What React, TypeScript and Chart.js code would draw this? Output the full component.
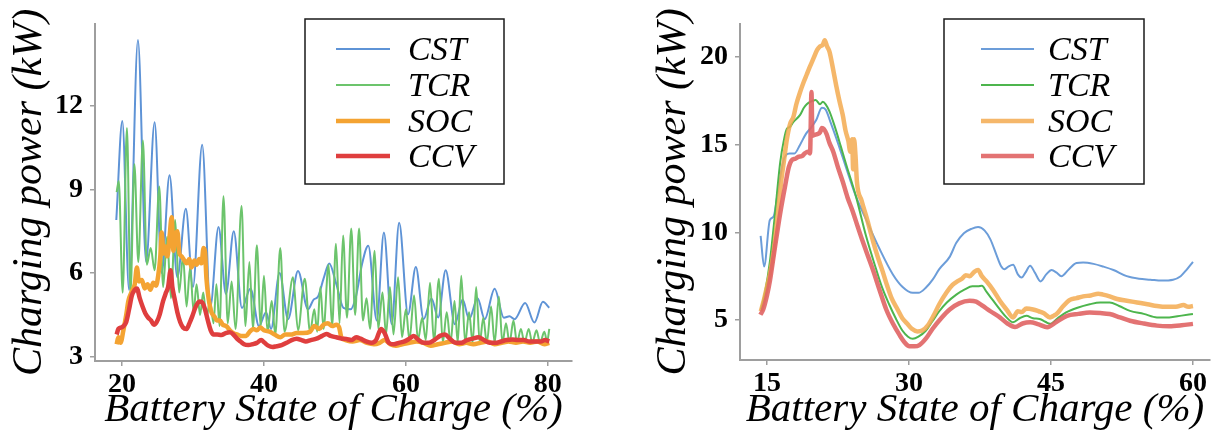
import React, { useEffect, useRef } from "react";
import { Chart, registerables } from "chart.js";
Chart.register(...registerables);

// ---------- Shared ----------
const seriesNames = ["CST", "TCR", "SOC", "CCV"];

// ---------- Left chart data ----------
const leftXTicks = [20, 40, 60, 80];
const leftYTicks = [3, 6, 9, 12];

const leftCstSoc = [19.2, 20.05, 21.0, 22.25, 23.4, 24.6, 25.6, 26.7, 27.8, 29.0, 30.0, 31.3, 32.45, 33.6, 34.65, 35.75, 36.9, 38.1, 39.3, 40.3, 41.0, 42.2, 43.4, 44.8, 46.2, 47.0, 47.6, 48.4, 49.2, 50.2, 51.2, 52.2, 53.0, 53.8, 54.7, 55.9, 56.9, 58.0, 59.05, 60.3, 61.4, 62.5, 63.6, 64.55, 65.6, 66.9, 68.0, 68.9, 70.1, 71.1, 72.5, 73.8, 74.6, 75.3, 76.8, 78.1, 79.3, 80.2];
const leftCstPower = [7.9, 11.45, 5.4, 14.35, 6.4, 11.4, 6.0, 9.5, 5.85, 8.3, 5.5, 10.6, 4.8, 7.65, 5.25, 7.5, 4.75, 5.45, 4.1, 4.6, 4.0, 6.0, 4.35, 6.07, 4.7, 5.05, 5.15, 5.8, 6.34, 5.6, 4.75, 4.7, 5.2, 6.3, 6.98, 4.3, 7.45, 4.17, 7.8, 4.52, 6.22, 4.35, 5.09, 4.41, 6.1, 4.17, 5.05, 4.35, 5.1, 4.35, 5.44, 4.4, 4.45, 4.35, 4.93, 4.23, 4.97, 4.76];

const leftTcrSoc = [19.25, 19.55, 20.1, 20.7, 21.2, 21.75, 22.3, 22.95, 23.5, 24.05, 24.6, 25.25, 25.8, 26.35, 26.9, 27.5, 28.05, 28.6, 29.1, 29.6, 30.1, 30.5, 31.0, 31.45, 31.9, 32.4, 32.9, 33.3, 33.75, 34.3, 34.9, 35.45, 36.0, 36.85, 37.4, 37.95, 38.45, 39.0, 39.55, 40.0, 40.5, 41.1, 41.6, 42.3, 42.9, 44.1, 44.8, 45.75, 46.5, 47.1, 47.5, 47.95, 48.4, 49.1, 49.6, 50.15, 50.65, 51.15, 51.7, 52.3, 52.85, 53.4, 53.95, 54.45, 54.95, 55.6, 56.1, 56.7, 57.2, 57.75, 58.25, 58.9, 59.45, 60.0, 60.5, 61.15, 61.7, 62.3, 62.8, 63.4, 63.95, 64.65, 65.2, 65.75, 66.3, 66.85, 67.3, 67.8, 68.35, 68.9, 69.4, 69.9, 70.4, 70.9, 71.4, 72.0, 72.5, 73.1, 73.6, 74.1, 74.6, 75.15, 75.65, 76.2, 76.7, 77.3, 77.8, 78.4, 78.9, 79.5, 79.9, 80.2];
const leftTcrPower = [8.9, 9.3, 5.3, 11.2, 5.3, 9.9, 6.4, 10.75, 6.3, 6.9, 6.1, 9.1, 5.5, 7.3, 5.1, 7.9, 5.3, 6.6, 4.8, 6.2, 4.6, 5.6, 4.5, 5.3, 4.4, 5.0, 4.2, 5.6, 4.1, 8.75, 4.2, 5.7, 4.0, 8.4, 4.1, 6.4, 4.0, 7.0, 4.1, 5.9, 3.9, 5.0, 3.8, 6.9, 3.9, 5.85, 3.95, 5.8, 3.9, 4.7, 3.9, 5.5, 4.0, 6.3, 4.1, 7.05, 4.2, 7.35, 4.4, 7.6, 4.5, 7.6, 4.3, 5.1, 4.0, 6.8, 4.0, 5.3, 3.8, 5.5, 3.8, 5.85, 3.7, 4.7, 3.6, 5.2, 3.6, 4.4, 3.6, 5.65, 3.55, 5.8, 3.5, 4.6, 3.5, 5.0, 3.5, 5.9, 3.5, 4.6, 3.5, 5.5, 3.5, 4.4, 3.5, 4.8, 3.5, 5.15, 3.5, 4.2, 3.5, 4.3, 3.5, 4.0, 3.5, 4.0, 3.5, 3.95, 3.5, 3.9, 3.55, 4.0];

const leftSocSoc = [19.25, 19.5, 19.8, 20.2, 20.6, 20.9, 21.4, 21.8, 22.1, 22.4, 22.8, 23.2, 23.6, 24.0, 24.4, 24.8, 25.1, 25.4, 25.6, 25.85, 26.1, 26.4, 26.7, 27.0, 27.25, 27.5, 27.8, 28.1, 28.4, 28.8, 29.1, 29.5, 29.8, 30.2, 30.5, 30.9, 31.2, 31.5, 31.7, 31.9, 32.2, 32.6, 33.0, 33.4, 33.8, 34.2, 34.7, 35.2, 35.7, 36.2, 36.8, 37.5, 38.0, 38.5, 39.0, 39.5, 40.0, 40.8, 41.5, 42.3, 43.0, 43.8, 44.6, 45.5, 46.5, 47.1, 47.8, 48.4, 49.0, 49.6, 50.2, 50.6, 50.9, 51.5, 52.5, 53.5, 54.5, 55.5, 56.3, 57.0, 57.8, 58.6, 59.5, 60.5, 61.5, 62.5, 63.5, 64.5, 65.5, 66.5, 67.5, 68.5, 69.5, 70.5, 71.5, 72.5, 73.5, 74.5, 75.5, 76.5, 77.5, 78.5, 79.5, 80.2];
const leftSocPower = [3.45, 3.7, 3.5, 3.95, 4.5, 5.0, 5.35, 5.6, 6.2, 5.7, 5.75, 5.45, 5.6, 5.4, 5.65, 5.55, 5.9, 6.6, 7.45, 6.7, 6.95, 6.6, 7.3, 8.0, 6.8, 7.3, 7.5, 6.7, 6.6, 6.45, 6.35, 6.5, 6.2, 6.45, 6.3, 6.5, 6.35, 6.9, 6.75, 5.8, 5.1, 4.6, 4.45, 4.3, 4.3, 4.15, 4.1, 3.95, 3.85, 3.8, 3.75, 3.75, 3.9, 4.0, 3.95, 4.05, 3.95, 3.9, 3.8, 3.7, 3.8, 3.8, 3.85, 3.85, 3.9, 4.1, 4.0, 4.15, 4.2, 4.1, 4.15, 4.05, 3.7, 3.6, 3.55, 3.6, 3.5, 3.45, 3.5, 3.6, 3.45, 3.4, 3.45, 3.5, 3.55, 3.5, 3.4, 3.45, 3.5, 3.55, 3.45, 3.5, 3.45, 3.5, 3.55, 3.45, 3.5, 3.55, 3.5, 3.55, 3.5, 3.55, 3.45, 3.5];

const leftCcvSoc = [19.25, 19.5, 19.9, 20.2, 20.6, 21.0, 21.4, 21.8, 22.1, 22.5, 22.9, 23.3, 23.7, 24.1, 24.5, 24.9, 25.3, 25.8, 26.2, 26.5, 26.85, 27.1, 27.4, 27.8, 28.2, 28.6, 29.1, 29.5, 29.9, 30.4, 30.9, 31.3, 31.7, 32.1, 32.5, 32.9, 33.4, 34.0, 34.6, 35.2, 35.7, 36.2, 36.7, 37.2, 37.8, 38.4, 39.0, 39.6, 40.1, 40.6, 41.2, 41.8, 42.5, 43.2, 43.9, 44.6, 45.3, 45.9, 46.6, 47.4, 48.2, 48.8, 49.4, 50.2, 51.0, 51.6, 52.3, 53.0, 53.6, 54.4, 55.2, 55.8, 56.5, 57.0, 57.6, 58.3, 59.0, 59.8, 60.5, 61.1, 61.8, 62.5, 63.2, 64.0, 64.8, 65.5, 66.2, 67.0, 67.8, 68.6, 69.4, 70.2, 71.0, 71.8, 72.6, 73.4, 74.2, 75.0, 75.8, 76.6, 77.4, 78.2, 79.0, 79.6, 80.2];
const leftCcvPower = [3.8, 4.0, 4.05, 4.1, 4.25, 4.7, 5.2, 5.4, 5.45, 5.1, 4.8, 4.55, 4.4, 4.3, 4.15, 4.25, 4.5, 5.0, 5.3, 5.5, 6.1, 5.5, 5.1, 4.6, 4.25, 4.05, 4.0, 4.2, 4.45, 4.8, 4.98, 4.95, 4.7, 4.3, 3.95, 3.8, 3.8, 3.78, 3.85, 3.88, 3.8, 3.65, 3.55, 3.45, 3.42, 3.45, 3.5, 3.6, 3.5, 3.4, 3.35, 3.38, 3.42, 3.5, 3.6, 3.65, 3.6, 3.55, 3.6, 3.65, 3.75, 3.82, 3.75, 3.7, 3.65, 3.64, 3.6, 3.7, 3.65, 3.55, 3.5, 3.6, 4.0, 3.85, 3.5, 3.45, 3.5, 3.55, 3.65, 3.75, 3.6, 3.5, 3.5, 3.6, 3.75, 3.8, 3.65, 3.5, 3.5, 3.6, 3.65, 3.7, 3.6, 3.5, 3.5, 3.55, 3.6, 3.62, 3.6, 3.6, 3.55, 3.55, 3.55, 3.6, 3.55];

// ---------- Right chart data ----------
const rightXTicks = [15, 30, 45, 60];
const rightYTicks = [5, 10, 15, 20];

const rightCstSoc = [14.33, 14.7, 15.3, 15.7, 16.2, 16.7, 17.0, 17.4, 17.9, 18.5, 19.1, 19.7, 20.2, 20.8, 21.2, 21.7, 22.3, 22.8, 23.35, 24.4, 25.5, 26.9, 28.3, 29.3, 30.4, 31.0, 31.8, 32.5, 33.2, 34.3, 35.0, 35.8, 36.6, 37.3, 38.0, 38.6, 39.25, 39.7, 40.1, 40.5, 41.0, 41.5, 41.9, 42.3, 42.8, 43.3, 43.9, 44.5, 45.07, 45.6, 46.1, 46.9, 47.7, 48.4, 49.5, 50.5, 51.6, 53.0, 54.3, 55.5, 56.7, 57.9, 58.7, 59.3, 60.0];
const rightCstPower = [9.8, 8.05, 10.7, 10.9, 12.5, 14.0, 14.4, 14.5, 14.5, 15.0, 15.6, 16.0, 16.4, 17.1, 17.0, 16.3, 15.4, 14.6, 13.7, 12.05, 10.7, 9.05, 7.6, 6.9, 6.55, 6.55, 6.85, 7.3, 7.9, 8.6, 9.4, 9.95, 10.2, 10.3, 10.1, 9.6, 8.7, 8.1, 7.9, 8.05, 8.15, 7.6, 7.42, 7.7, 8.1, 7.7, 7.2, 7.6, 7.85, 7.7, 7.5, 7.9, 8.25, 8.28, 8.2, 8.05, 7.85, 7.5, 7.35, 7.3, 7.25, 7.3, 7.5, 7.85, 8.32];

const rightTcrSoc = [14.35, 14.8, 15.3, 15.8, 16.4, 16.8, 17.1, 17.4, 17.8, 18.5, 18.9, 19.2, 19.6, 20.15, 20.6, 20.9, 21.2, 21.6, 22.0, 22.3, 22.8, 23.35, 24.4, 25.46, 26.5, 27.2, 27.9, 28.6, 29.3, 29.9, 30.4, 31.0, 31.8, 32.5, 33.2, 34.0, 35.0, 35.9, 36.7, 37.3, 37.7, 38.2, 38.9, 39.6, 40.3, 41.0, 41.7, 42.4, 43.1, 43.8, 44.4, 44.9, 45.7, 46.6, 47.8, 49.1, 50.2, 51.2, 52.2, 53.35, 54.8, 56.2, 57.5, 58.8, 60.0];
const rightTcrPower = [5.6, 6.6, 8.3, 10.8, 14.0, 15.3, 15.9, 16.0, 16.3, 16.7, 17.1, 17.3, 17.45, 17.55, 17.3, 17.45, 17.3, 16.9, 16.3, 15.8, 14.9, 13.9, 12.05, 9.8, 7.95, 6.8, 5.9, 5.1, 4.4, 4.05, 3.93, 4.05, 4.4, 4.95, 5.5, 6.0, 6.45, 6.75, 6.92, 6.92, 6.95, 6.6, 6.1, 5.6, 5.15, 4.87, 5.1, 5.24, 5.1, 5.06, 4.9, 4.78, 5.1, 5.43, 5.7, 5.9, 6.0, 6.0, 5.8, 5.52, 5.35, 5.15, 5.15, 5.25, 5.34];

const rightSocSoc = [14.35, 14.7, 15.0, 15.3, 15.7, 16.1, 16.5, 16.8, 17.1, 17.45, 17.8, 18.1, 18.5, 18.9, 19.2, 19.5, 19.9, 20.3, 20.6, 20.9, 21.1, 21.35, 21.6, 21.95, 22.3, 22.65, 23.0, 23.3, 23.6, 23.8, 24.0, 24.1, 24.2, 24.35, 24.5, 25.0, 25.6, 26.2, 26.7, 27.2, 27.7, 28.2, 28.8, 29.3, 29.8, 30.3, 30.9, 31.4, 32.0, 32.6, 33.2, 34.0, 34.6, 35.1, 35.6, 36.0, 36.4, 36.9, 37.3, 37.7, 38.2, 38.9, 39.6, 40.3, 41.0, 41.5, 41.9, 42.4, 43.1, 43.7, 44.2, 44.9, 45.3, 45.6, 46.3, 47.0, 47.7, 48.4, 49.2, 50.0, 50.5, 51.2, 52.0, 53.0, 54.1, 55.2, 56.2, 57.2, 58.2, 59.0, 59.5, 60.0];
const rightSocPower = [5.5, 6.2, 6.9, 7.6, 8.9, 10.8, 12.9, 14.1, 15.3, 16.2, 16.6, 17.3, 18.0, 18.6, 19.0, 19.4, 19.9, 20.4, 20.6, 20.7, 20.95, 20.6, 20.3, 19.4, 18.4, 17.5, 16.7, 15.8, 15.2, 14.6, 15.3, 13.6, 15.3, 14.4, 12.9, 11.8, 10.7, 9.5, 8.6, 7.8, 6.95, 6.2, 5.6, 5.1, 4.8, 4.5, 4.35, 4.4, 4.7, 5.25, 5.9, 6.6, 7.0, 7.2, 7.35, 7.55, 7.5, 7.75, 7.85, 7.5, 7.2, 6.7, 6.1, 5.6, 5.15, 5.5, 5.45, 5.65, 5.6, 5.5, 5.4, 5.15, 5.25, 5.35, 5.8, 6.15, 6.25, 6.35, 6.4, 6.5, 6.45, 6.35, 6.2, 6.1, 6.0, 5.9, 5.8, 5.75, 5.75, 5.85, 5.75, 5.8];

const rightCcvSoc = [14.3, 14.6, 15.0, 15.3, 15.8, 16.4, 16.9, 17.3, 17.6, 18.0, 18.3, 18.7, 19.0, 19.3, 19.55, 19.7, 19.8, 20.0, 20.3, 20.6, 20.8, 21.0, 21.3, 21.6, 22.0, 22.5, 23.0, 23.5, 24.05, 24.6, 25.1, 25.7, 26.2, 26.9, 27.6, 28.3, 29.0, 29.5, 30.05, 30.6, 31.1, 31.8, 32.5, 33.4, 34.3, 35.3, 36.4, 37.1, 37.8, 38.6, 39.6, 40.4, 41.2, 42.0, 42.8, 43.7, 44.6, 45.6, 46.7, 47.9, 49.1, 50.2, 51.2, 52.3, 53.35, 54.8, 56.2, 57.5, 58.8, 60.0];
const rightCcvPower = [5.3, 5.6, 6.4, 7.2, 9.0, 11.1, 12.6, 13.7, 14.1, 14.2, 14.3, 14.35, 14.5, 14.6, 14.5, 18.0, 15.5, 15.55, 15.6, 15.7, 15.95, 15.9, 15.6, 15.1, 14.6, 13.7, 12.9, 12.0, 11.2, 10.3, 9.5, 8.6, 7.85, 6.7, 5.6, 4.8, 4.15, 3.75, 3.5, 3.5, 3.57, 3.95, 4.5, 5.1, 5.6, 5.95, 6.1, 6.05, 5.8, 5.5, 5.15, 4.8, 4.6, 4.8, 4.87, 4.75, 4.59, 4.9, 5.24, 5.35, 5.43, 5.4, 5.34, 5.15, 4.96, 4.8, 4.68, 4.65, 4.7, 4.78];

// ---------- helpers ----------
const FONT = "'Liberation Serif', 'Times New Roman', 'DejaVu Serif', serif";

function pts(xs: number[], ys: number[]) {
  return xs.map((x, i) => ({ x, y: ys[i] }));
}

type LegendBox = { x: number; y: number; w: number; h: number; lx1: number; lx2: number; tx: number; rows: number[] };

function boxLegend(box: LegendBox) {
  return {
    id: "boxLegend",
    afterDraw(chart: any) {
      const ctx = chart.ctx as CanvasRenderingContext2D;
      ctx.save();
      ctx.strokeStyle = "#1a1a1a";
      ctx.lineWidth = 1.5;
      ctx.strokeRect(box.x, box.y, box.w, box.h);
      chart.data.datasets.forEach((ds: any, i: number) => {
        const y = box.rows[i];
        ctx.strokeStyle = ds.borderColor;
        ctx.lineWidth = ds.borderWidth;
        ctx.lineCap = "butt";
        ctx.beginPath();
        ctx.moveTo(box.lx1, y);
        ctx.lineTo(box.lx2, y);
        ctx.stroke();
        ctx.fillStyle = "#000";
        ctx.font = `italic 34px ${FONT}`;
        ctx.textBaseline = "alphabetic";
        ctx.textAlign = "left";
        ctx.fillText(ds.label, box.tx, y + 11);
      });
      ctx.restore();
    },
  };
}

type PanelSpec = {
  width: number;
  height: number;
  datasets: any[];
  xMin: number; xMax: number; yMin: number; yMax: number;
  xTicks: number[]; yTicks: number[];
  yAxisWidth: number; xAxisHeight: number;
  padTop: number; padRight: number;
  yTitlePad: number;
  legend: LegendBox;
};

function makeConfig(p: PanelSpec): any {
  const axisColor = "#9e9e9e";
  const tickFont = { family: FONT, size: 28, weight: "bold" as const };
  return {
    type: "line",
    data: { datasets: p.datasets },
    options: {
      animation: false,
      responsive: false,
      devicePixelRatio: 1,
      events: [],
      layout: { padding: { top: p.padTop, right: p.padRight, left: 0, bottom: 0 } },
      plugins: { legend: { display: false }, tooltip: { enabled: false } },
      elements: { point: { radius: 0 }, line: { tension: 0.35, cubicInterpolationMode: "monotone" } },
      scales: {
        x: {
          type: "linear",
          min: p.xMin,
          max: p.xMax,
          afterBuildTicks: (s: any) => { s.ticks = p.xTicks.map((v) => ({ value: v })); },
          afterFit: (s: any) => { s.height = p.xAxisHeight; },
          ticks: { font: tickFont, color: "#000", padding: 2, maxRotation: 0, autoSkip: false },
          grid: { drawOnChartArea: false, drawTicks: true, tickLength: 5, color: axisColor, lineWidth: 1.5 },
          border: { display: true, color: axisColor, width: 2 },
          title: { display: true, text: "Battery State of Charge (%)", color: "#000", font: { family: FONT, size: 41, style: "italic", lineHeight: 1 }, padding: { top: 0, bottom: 5 } },
        },
        y: {
          type: "linear",
          min: p.yMin,
          max: p.yMax,
          afterBuildTicks: (s: any) => { s.ticks = p.yTicks.map((v) => ({ value: v })); },
          afterFit: (s: any) => { s.width = p.yAxisWidth; },
          ticks: { font: tickFont, color: "#000", padding: 7 },
          grid: { drawOnChartArea: false, drawTicks: true, tickLength: 5, color: axisColor, lineWidth: 1.5 },
          border: { display: true, color: axisColor, width: 2 },
          title: { display: true, text: "Charging power (kW)", color: "#000", font: { family: FONT, size: 42, style: "italic", lineHeight: 1 }, padding: { top: p.yTitlePad, bottom: 0 } },
        },
      },
    },
    plugins: [boxLegend(p.legend)],
  };
}

function Panel({ spec, left }: { spec: PanelSpec; left: number }) {
  const ref = useRef<HTMLCanvasElement | null>(null);
  useEffect(() => {
    if (!ref.current) return;
    const chart = new Chart(ref.current, makeConfig(spec));
    return () => chart.destroy();
  }, []);
  return (
    <canvas
      ref={ref}
      width={spec.width}
      height={spec.height}
      style={{ position: "absolute", left, top: 0, width: spec.width, height: spec.height }}
    />
  );
}

function ds(label: string, xs: number[], ys: number[], color: string, width: number, order: number) {
  return { label, data: pts(xs, ys), borderColor: color, backgroundColor: color, borderWidth: width, fill: false, order };
}

const leftSpec: PanelSpec = {
  width: 600,
  height: 436,
  datasets: [
    ds(seriesNames[0], leftCstSoc, leftCstPower, "#5e93d6", 2, 3),
    ds(seriesNames[1], leftTcrSoc, leftTcrPower, "#6cc46c", 2, 2),
    ds(seriesNames[2], leftSocSoc, leftSocPower, "#f4a332", 4.5, 1),
    ds(seriesNames[3], leftCcvSoc, leftCcvPower, "#df3e3e", 4.5, 0),
  ],
  xMin: 16.2, xMax: 83.4, yMin: 2.85, yMax: 14.93,
  xTicks: leftXTicks, yTicks: leftYTicks,
  yAxisWidth: 95, xAxisHeight: 75, padTop: 17, padRight: 28,
  yTitlePad: 9,
  legend: { x: 305, y: 19, w: 199, h: 165, lx1: 336, lx2: 390, tx: 408, rows: [49, 85, 121, 156] },
};

const rightSpec: PanelSpec = {
  width: 613,
  height: 436,
  datasets: [
    ds(seriesNames[0], rightCstSoc, rightCstPower, "#6c9dd9", 2, 3),
    ds(seriesNames[1], rightTcrSoc, rightTcrPower, "#4db54d", 2, 2),
    ds(seriesNames[2], rightSocSoc, rightSocPower, "rgba(243,170,80,0.85)", 4.5, 1),
    ds(seriesNames[3], rightCcvSoc, rightCcvPower, "rgba(224,100,100,0.9)", 4.5, 0),
  ],
  xMin: 12.15, xMax: 61.8, yMin: 2.72, yMax: 21.89,
  xTicks: rightXTicks, yTicks: rightYTicks,
  yAxisWidth: 140, xAxisHeight: 76, padTop: 18, padRight: 3,
  yTitlePad: 53,
  legend: { x: 344, y: 19, w: 200, h: 165, lx1: 381, lx2: 434, tx: 448, rows: [49, 85, 121, 156] },
};

export default function App() {
  return (
    <div style={{ position: "fixed", left: 0, top: 0, width: 1213, height: 436, background: "#fff", overflow: "hidden" }}>
      <Panel spec={leftSpec} left={0} />
      <Panel spec={rightSpec} left={600} />
    </div>
  );
}
